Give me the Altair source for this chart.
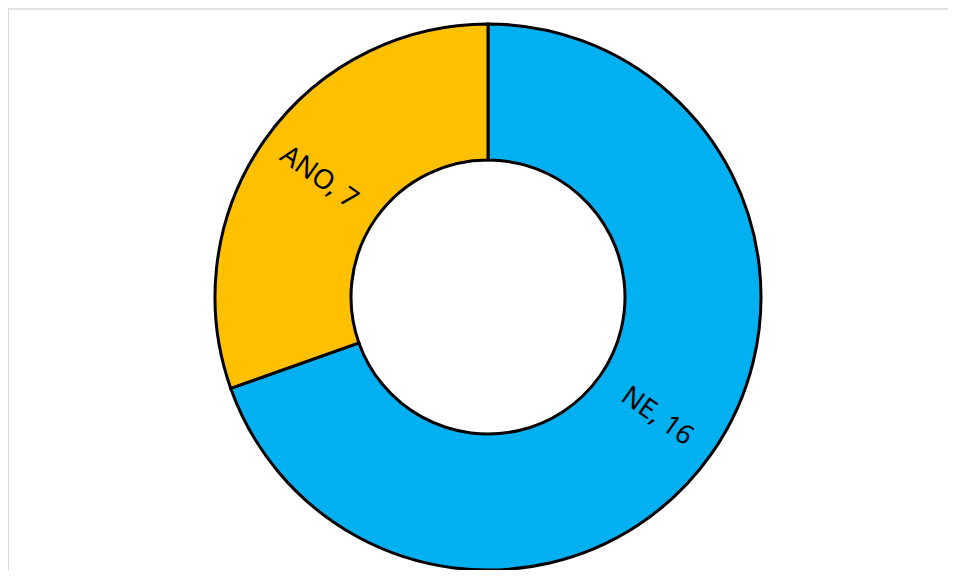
import altair as alt
import pandas as pd

categories = ["NE", "ANO"]
values = [16, 7]
colors = ["#00B0F0", "#FFC000"]
order = [0, 1]

df = pd.DataFrame({"cat": categories, "value": values, "ord": order})

W, H = 940, 562
cx, cy = 480, 289

base = alt.Chart(df).encode(
    theta=alt.Theta("value:Q", stack=True),
    order=alt.Order("ord:Q"),
    x=alt.value(cx),
    y=alt.value(cy),
)

arc = base.mark_arc(outerRadius=273, innerRadius=137, stroke="black", strokeWidth=3).encode(
    color=alt.Color("cat:N", scale=alt.Scale(domain=categories, range=colors), legend=None)
)

text = (
    base.transform_joinaggregate(total="sum(value)")
    .transform_window(cum="sum(value)", sort=[alt.SortField("ord")], frame=[None, 0])
    .transform_calculate(
        ang="((datum.cum - datum.value/2)/datum.total*360 + 270) % 180",
        label="datum.cat + ', ' + datum.value",
    )
    .mark_text(radius=207, fontSize=27, font="Noto Sans", color="black")
    .encode(text="label:N", angle=alt.Angle("ang:Q", scale=None))
)

border_top = alt.Chart(df).mark_rule(color="#d9d9d9", strokeWidth=1).encode(
    x=alt.value(0), x2=alt.value(W), y=alt.value(1)
)
border_left = alt.Chart(df).mark_rule(color="#d9d9d9", strokeWidth=1).encode(
    x=alt.value(0.5), y=alt.value(0), y2=alt.value(H)
)

chart = (
    alt.layer(border_top, border_left, arc, text)
    .properties(width=W, height=H, padding=0, autosize="none")
    .configure_view(stroke=None)
)

chart.save("out.html", embed_options={"renderer": "svg", "actions": False})
